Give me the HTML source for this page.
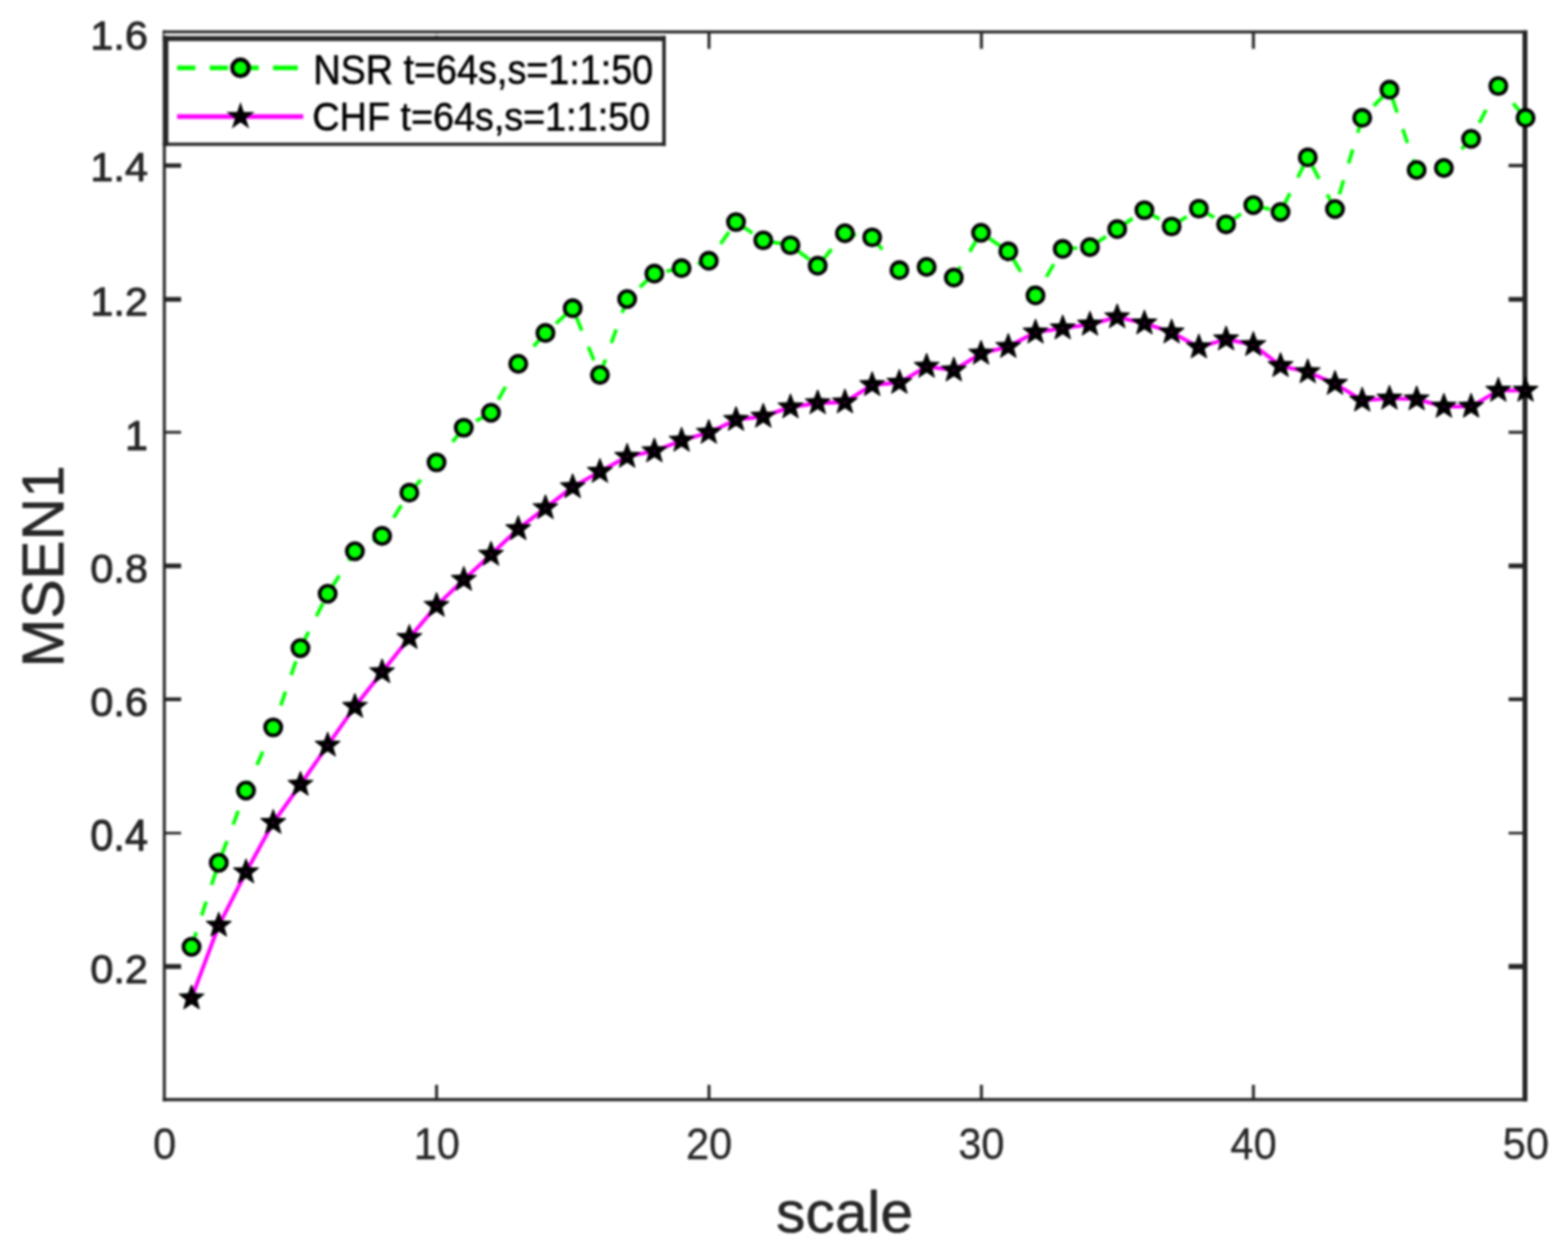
<!DOCTYPE html>
<html lang="en"><head><meta charset="utf-8"><title>MSEN1 vs scale</title>
<style>
html,body{margin:0;padding:0;background:#fff;}
body{width:1585px;height:1269px;overflow:hidden;}
svg{display:block;}
.soft{filter:url(#soft);}
text{font-family:"Liberation Sans",sans-serif;}
text{paint-order:stroke fill;stroke-linejoin:round;}
.tk{font-size:42px;fill:#262626;stroke:#262626;}
.yt{stroke-width:0.9px;}
.xt{stroke-width:0.3px;}
.lg{font-size:38.15px;fill:#000;stroke:#000;stroke-width:0.5px;}
.lb{font-size:59.3px;fill:#262626;stroke:#262626;stroke-width:0.6px;}
</style></head><body>
<svg width="1585" height="1269" viewBox="0 0 1585 1269">
<defs><filter id="soft" x="0" y="0" width="1585" height="1269" filterUnits="userSpaceOnUse" color-interpolation-filters="sRGB"><feGaussianBlur stdDeviation="0.8" result="b"/><feComposite in="SourceGraphic" in2="b" operator="arithmetic" k1="0" k2="0.0" k3="1.00" k4="0"/></filter></defs>
<rect x="0" y="0" width="1585" height="1269" fill="#fff"/>
<g id="figure" class="soft">
<rect x="0" y="0" width="1585" height="1269" fill="#fff"/>
<g id="axes" stroke="#262626" fill="none">
<line x1="164.6" y1="32.3" x2="1544.0" y2="32.3" stroke-width="3.0"/>
<line x1="164.6" y1="1111.9" x2="1544.0" y2="1111.9" stroke-width="3.2"/>
<line x1="166.1" y1="30.80" x2="166.1" y2="1113.50" stroke-width="3.0"/>
<line x1="1541.5" y1="30.80" x2="1541.5" y2="1113.50" stroke-width="5.0"/>
<line x1="441.30" y1="1111.9" x2="441.30" y2="1096.9" stroke-width="3.0"/>
<line x1="441.30" y1="32.3" x2="441.30" y2="49.4" stroke-width="3.0"/>
<line x1="716.70" y1="1111.9" x2="716.70" y2="1096.9" stroke-width="3.0"/>
<line x1="716.70" y1="32.3" x2="716.70" y2="49.4" stroke-width="3.0"/>
<line x1="992.05" y1="1111.9" x2="992.05" y2="1096.9" stroke-width="3.0"/>
<line x1="992.05" y1="32.3" x2="992.05" y2="49.4" stroke-width="3.0"/>
<line x1="1267.00" y1="1111.9" x2="1267.00" y2="1096.9" stroke-width="3.0"/>
<line x1="1267.00" y1="32.3" x2="1267.00" y2="49.4" stroke-width="3.0"/>
<line x1="166.1" y1="167.40" x2="183.1" y2="167.40" stroke-width="4.4"/>
<line x1="1541.5" y1="167.40" x2="1524.9" y2="167.40" stroke-width="3.4"/>
<line x1="166.1" y1="302.70" x2="183.1" y2="302.70" stroke-width="4.8"/>
<line x1="1541.5" y1="302.70" x2="1524.9" y2="302.70" stroke-width="4.8"/>
<line x1="166.1" y1="437.10" x2="183.1" y2="437.10" stroke-width="2.8"/>
<line x1="1541.5" y1="437.10" x2="1524.9" y2="437.10" stroke-width="3.0"/>
<line x1="166.1" y1="572.20" x2="183.1" y2="572.20" stroke-width="4.8"/>
<line x1="1541.5" y1="572.20" x2="1524.9" y2="572.20" stroke-width="4.8"/>
<line x1="166.1" y1="707.10" x2="183.1" y2="707.10" stroke-width="3.8"/>
<line x1="1541.5" y1="707.10" x2="1524.9" y2="707.10" stroke-width="3.8"/>
<line x1="166.1" y1="842.40" x2="183.1" y2="842.40" stroke-width="2.6"/>
<line x1="1541.5" y1="842.40" x2="1524.9" y2="842.40" stroke-width="2.6"/>
<line x1="166.1" y1="977.30" x2="183.1" y2="977.30" stroke-width="5.0"/>
<line x1="1541.5" y1="977.30" x2="1524.9" y2="977.30" stroke-width="5.2"/>
</g>
<g id="plot">
<polyline points="193.62,957.40 221.14,872.40 248.66,799.40 276.18,735.50 303.70,655.30 331.22,600.40 358.74,557.40 386.26,541.90 413.78,498.20 441.30,467.50 468.82,432.50 496.34,417.40 523.86,367.90 551.38,336.70 578.90,311.70 606.42,379.10 633.94,302.40 661.46,276.70 688.98,271.20 716.50,263.70 744.02,224.50 771.54,243.00 799.06,248.00 826.58,268.70 854.10,235.90 881.62,240.00 909.14,273.20 936.66,269.90 964.18,280.70 991.70,235.40 1019.22,254.20 1046.74,298.70 1074.26,251.70 1101.78,249.90 1129.30,231.70 1156.82,212.50 1184.34,229.00 1211.86,211.00 1239.38,226.80 1266.90,207.40 1294.42,214.40 1321.94,159.20 1349.46,211.40 1376.98,119.20 1404.50,90.70 1432.02,171.90 1459.54,169.90 1487.06,140.40 1514.58,87.00 1542.10,119.20" fill="none" stroke="#00ff00" stroke-width="3.7" stroke-dasharray="14.8 17.65" stroke-dashoffset="-0.8" stroke-linejoin="round"/>
<g fill="#00ff00" stroke="#000" stroke-width="3.8">
<circle cx="193.62" cy="957.40" r="8.2"/>
<circle cx="221.14" cy="872.40" r="8.2"/>
<circle cx="248.66" cy="799.40" r="8.2"/>
<circle cx="276.18" cy="735.50" r="8.2"/>
<circle cx="303.70" cy="655.30" r="8.2"/>
<circle cx="331.22" cy="600.40" r="8.2"/>
<circle cx="358.74" cy="557.40" r="8.2"/>
<circle cx="386.26" cy="541.90" r="8.2"/>
<circle cx="413.78" cy="498.20" r="8.2"/>
<circle cx="441.30" cy="467.50" r="8.2"/>
<circle cx="468.82" cy="432.50" r="8.2"/>
<circle cx="496.34" cy="417.40" r="8.2"/>
<circle cx="523.86" cy="367.90" r="8.2"/>
<circle cx="551.38" cy="336.70" r="8.2"/>
<circle cx="578.90" cy="311.70" r="8.2"/>
<circle cx="606.42" cy="379.10" r="8.2"/>
<circle cx="633.94" cy="302.40" r="8.2"/>
<circle cx="661.46" cy="276.70" r="8.2"/>
<circle cx="688.98" cy="271.20" r="8.2"/>
<circle cx="716.50" cy="263.70" r="8.2"/>
<circle cx="744.02" cy="224.50" r="8.2"/>
<circle cx="771.54" cy="243.00" r="8.2"/>
<circle cx="799.06" cy="248.00" r="8.2"/>
<circle cx="826.58" cy="268.70" r="8.2"/>
<circle cx="854.10" cy="235.90" r="8.2"/>
<circle cx="881.62" cy="240.00" r="8.2"/>
<circle cx="909.14" cy="273.20" r="8.2"/>
<circle cx="936.66" cy="269.90" r="8.2"/>
<circle cx="964.18" cy="280.70" r="8.2"/>
<circle cx="991.70" cy="235.40" r="8.2"/>
<circle cx="1019.22" cy="254.20" r="8.2"/>
<circle cx="1046.74" cy="298.70" r="8.2"/>
<circle cx="1074.26" cy="251.70" r="8.2"/>
<circle cx="1101.78" cy="249.90" r="8.2"/>
<circle cx="1129.30" cy="231.70" r="8.2"/>
<circle cx="1156.82" cy="212.50" r="8.2"/>
<circle cx="1184.34" cy="229.00" r="8.2"/>
<circle cx="1211.86" cy="211.00" r="8.2"/>
<circle cx="1239.38" cy="226.80" r="8.2"/>
<circle cx="1266.90" cy="207.40" r="8.2"/>
<circle cx="1294.42" cy="214.40" r="8.2"/>
<circle cx="1321.94" cy="159.20" r="8.2"/>
<circle cx="1349.46" cy="211.40" r="8.2"/>
<circle cx="1376.98" cy="119.20" r="8.2"/>
<circle cx="1404.50" cy="90.70" r="8.2"/>
<circle cx="1432.02" cy="171.90" r="8.2"/>
<circle cx="1459.54" cy="169.90" r="8.2"/>
<circle cx="1487.06" cy="140.40" r="8.2"/>
<circle cx="1514.58" cy="87.00" r="8.2"/>
<circle cx="1542.10" cy="119.20" r="8.2"/>
</g>
<polyline points="193.62,1009.30 221.14,935.80 248.66,881.90 276.18,831.90 303.70,793.30 331.22,753.70 358.74,714.50 386.26,679.50 413.78,644.90 441.30,612.40 468.82,586.10 496.34,560.70 523.86,534.80 551.38,513.60 578.90,492.40 606.42,476.90 633.94,461.70 661.46,456.20 688.98,445.40 716.50,437.40 744.02,424.40 771.54,421.20 799.06,411.70 826.58,407.50 854.10,406.70 881.62,389.20 909.14,386.90 936.66,370.60 964.18,374.40 991.70,357.40 1019.22,350.60 1046.74,336.10 1074.26,331.90 1101.78,328.10 1129.30,320.60 1156.82,326.90 1184.34,336.00 1211.86,351.10 1239.38,343.00 1266.90,348.70 1294.42,369.90 1321.94,376.20 1349.46,387.90 1376.98,404.90 1404.50,402.90 1432.02,403.60 1459.54,411.10 1487.06,411.10 1514.58,394.90 1542.10,394.90" fill="none" stroke="#ff00ff" stroke-width="3.9" stroke-linejoin="round"/>
<g fill="#000" stroke="#000" stroke-width="1.0" stroke-linejoin="miter" stroke-miterlimit="10">
<polygon points="193.62,995.90 196.93,1004.75 206.36,1005.16 198.97,1011.04 201.50,1020.14 193.62,1014.93 185.74,1020.14 188.27,1011.04 180.88,1005.16 190.31,1004.75"/>
<polygon points="221.14,922.40 224.45,931.25 233.88,931.66 226.49,937.54 229.02,946.64 221.14,941.43 213.26,946.64 215.79,937.54 208.40,931.66 217.83,931.25"/>
<polygon points="248.66,868.50 251.97,877.35 261.40,877.76 254.01,883.64 256.54,892.74 248.66,887.53 240.78,892.74 243.31,883.64 235.92,877.76 245.35,877.35"/>
<polygon points="276.18,818.50 279.49,827.35 288.92,827.76 281.53,833.64 284.06,842.74 276.18,837.53 268.30,842.74 270.83,833.64 263.44,827.76 272.87,827.35"/>
<polygon points="303.70,779.90 307.01,788.75 316.44,789.16 309.05,795.04 311.58,804.14 303.70,798.93 295.82,804.14 298.35,795.04 290.96,789.16 300.39,788.75"/>
<polygon points="331.22,740.30 334.53,749.15 343.96,749.56 336.57,755.44 339.10,764.54 331.22,759.33 323.34,764.54 325.87,755.44 318.48,749.56 327.91,749.15"/>
<polygon points="358.74,701.10 362.05,709.95 371.48,710.36 364.09,716.24 366.62,725.34 358.74,720.13 350.86,725.34 353.39,716.24 346.00,710.36 355.43,709.95"/>
<polygon points="386.26,666.10 389.57,674.95 399.00,675.36 391.61,681.24 394.14,690.34 386.26,685.13 378.38,690.34 380.91,681.24 373.52,675.36 382.95,674.95"/>
<polygon points="413.78,631.50 417.09,640.35 426.52,640.76 419.13,646.64 421.66,655.74 413.78,650.53 405.90,655.74 408.43,646.64 401.04,640.76 410.47,640.35"/>
<polygon points="441.30,599.00 444.61,607.85 454.04,608.26 446.65,614.14 449.18,623.24 441.30,618.03 433.42,623.24 435.95,614.14 428.56,608.26 437.99,607.85"/>
<polygon points="468.82,572.70 472.13,581.55 481.56,581.96 474.17,587.84 476.70,596.94 468.82,591.73 460.94,596.94 463.47,587.84 456.08,581.96 465.51,581.55"/>
<polygon points="496.34,547.30 499.65,556.15 509.08,556.56 501.69,562.44 504.22,571.54 496.34,566.33 488.46,571.54 490.99,562.44 483.60,556.56 493.03,556.15"/>
<polygon points="523.86,521.40 527.17,530.25 536.60,530.66 529.21,536.54 531.74,545.64 523.86,540.43 515.98,545.64 518.51,536.54 511.12,530.66 520.55,530.25"/>
<polygon points="551.38,500.20 554.69,509.05 564.12,509.46 556.73,515.34 559.26,524.44 551.38,519.23 543.50,524.44 546.03,515.34 538.64,509.46 548.07,509.05"/>
<polygon points="578.90,479.00 582.21,487.85 591.64,488.26 584.25,494.14 586.78,503.24 578.90,498.03 571.02,503.24 573.55,494.14 566.16,488.26 575.59,487.85"/>
<polygon points="606.42,463.50 609.73,472.35 619.16,472.76 611.77,478.64 614.30,487.74 606.42,482.53 598.54,487.74 601.07,478.64 593.68,472.76 603.11,472.35"/>
<polygon points="633.94,448.30 637.25,457.15 646.68,457.56 639.29,463.44 641.82,472.54 633.94,467.33 626.06,472.54 628.59,463.44 621.20,457.56 630.63,457.15"/>
<polygon points="661.46,442.80 664.77,451.65 674.20,452.06 666.81,457.94 669.34,467.04 661.46,461.83 653.58,467.04 656.11,457.94 648.72,452.06 658.15,451.65"/>
<polygon points="688.98,432.00 692.29,440.85 701.72,441.26 694.33,447.14 696.86,456.24 688.98,451.03 681.10,456.24 683.63,447.14 676.24,441.26 685.67,440.85"/>
<polygon points="716.50,424.00 719.81,432.85 729.24,433.26 721.85,439.14 724.38,448.24 716.50,443.03 708.62,448.24 711.15,439.14 703.76,433.26 713.19,432.85"/>
<polygon points="744.02,411.00 747.33,419.85 756.76,420.26 749.37,426.14 751.90,435.24 744.02,430.03 736.14,435.24 738.67,426.14 731.28,420.26 740.71,419.85"/>
<polygon points="771.54,407.80 774.85,416.65 784.28,417.06 776.89,422.94 779.42,432.04 771.54,426.83 763.66,432.04 766.19,422.94 758.80,417.06 768.23,416.65"/>
<polygon points="799.06,398.30 802.37,407.15 811.80,407.56 804.41,413.44 806.94,422.54 799.06,417.33 791.18,422.54 793.71,413.44 786.32,407.56 795.75,407.15"/>
<polygon points="826.58,394.10 829.89,402.95 839.32,403.36 831.93,409.24 834.46,418.34 826.58,413.13 818.70,418.34 821.23,409.24 813.84,403.36 823.27,402.95"/>
<polygon points="854.10,393.30 857.41,402.15 866.84,402.56 859.45,408.44 861.98,417.54 854.10,412.33 846.22,417.54 848.75,408.44 841.36,402.56 850.79,402.15"/>
<polygon points="881.62,375.80 884.93,384.65 894.36,385.06 886.97,390.94 889.50,400.04 881.62,394.83 873.74,400.04 876.27,390.94 868.88,385.06 878.31,384.65"/>
<polygon points="909.14,373.50 912.45,382.35 921.88,382.76 914.49,388.64 917.02,397.74 909.14,392.53 901.26,397.74 903.79,388.64 896.40,382.76 905.83,382.35"/>
<polygon points="936.66,357.20 939.97,366.05 949.40,366.46 942.01,372.34 944.54,381.44 936.66,376.23 928.78,381.44 931.31,372.34 923.92,366.46 933.35,366.05"/>
<polygon points="964.18,361.00 967.49,369.85 976.92,370.26 969.53,376.14 972.06,385.24 964.18,380.03 956.30,385.24 958.83,376.14 951.44,370.26 960.87,369.85"/>
<polygon points="991.70,344.00 995.01,352.85 1004.44,353.26 997.05,359.14 999.58,368.24 991.70,363.03 983.82,368.24 986.35,359.14 978.96,353.26 988.39,352.85"/>
<polygon points="1019.22,337.20 1022.53,346.05 1031.96,346.46 1024.57,352.34 1027.10,361.44 1019.22,356.23 1011.34,361.44 1013.87,352.34 1006.48,346.46 1015.91,346.05"/>
<polygon points="1046.74,322.70 1050.05,331.55 1059.48,331.96 1052.09,337.84 1054.62,346.94 1046.74,341.73 1038.86,346.94 1041.39,337.84 1034.00,331.96 1043.43,331.55"/>
<polygon points="1074.26,318.50 1077.57,327.35 1087.00,327.76 1079.61,333.64 1082.14,342.74 1074.26,337.53 1066.38,342.74 1068.91,333.64 1061.52,327.76 1070.95,327.35"/>
<polygon points="1101.78,314.70 1105.09,323.55 1114.52,323.96 1107.13,329.84 1109.66,338.94 1101.78,333.73 1093.90,338.94 1096.43,329.84 1089.04,323.96 1098.47,323.55"/>
<polygon points="1129.30,307.20 1132.61,316.05 1142.04,316.46 1134.65,322.34 1137.18,331.44 1129.30,326.23 1121.42,331.44 1123.95,322.34 1116.56,316.46 1125.99,316.05"/>
<polygon points="1156.82,313.50 1160.13,322.35 1169.56,322.76 1162.17,328.64 1164.70,337.74 1156.82,332.53 1148.94,337.74 1151.47,328.64 1144.08,322.76 1153.51,322.35"/>
<polygon points="1184.34,322.60 1187.65,331.45 1197.08,331.86 1189.69,337.74 1192.22,346.84 1184.34,341.63 1176.46,346.84 1178.99,337.74 1171.60,331.86 1181.03,331.45"/>
<polygon points="1211.86,337.70 1215.17,346.55 1224.60,346.96 1217.21,352.84 1219.74,361.94 1211.86,356.73 1203.98,361.94 1206.51,352.84 1199.12,346.96 1208.55,346.55"/>
<polygon points="1239.38,329.60 1242.69,338.45 1252.12,338.86 1244.73,344.74 1247.26,353.84 1239.38,348.63 1231.50,353.84 1234.03,344.74 1226.64,338.86 1236.07,338.45"/>
<polygon points="1266.90,335.30 1270.21,344.15 1279.64,344.56 1272.25,350.44 1274.78,359.54 1266.90,354.33 1259.02,359.54 1261.55,350.44 1254.16,344.56 1263.59,344.15"/>
<polygon points="1294.42,356.50 1297.73,365.35 1307.16,365.76 1299.77,371.64 1302.30,380.74 1294.42,375.53 1286.54,380.74 1289.07,371.64 1281.68,365.76 1291.11,365.35"/>
<polygon points="1321.94,362.80 1325.25,371.65 1334.68,372.06 1327.29,377.94 1329.82,387.04 1321.94,381.83 1314.06,387.04 1316.59,377.94 1309.20,372.06 1318.63,371.65"/>
<polygon points="1349.46,374.50 1352.77,383.35 1362.20,383.76 1354.81,389.64 1357.34,398.74 1349.46,393.53 1341.58,398.74 1344.11,389.64 1336.72,383.76 1346.15,383.35"/>
<polygon points="1376.98,391.50 1380.29,400.35 1389.72,400.76 1382.33,406.64 1384.86,415.74 1376.98,410.53 1369.10,415.74 1371.63,406.64 1364.24,400.76 1373.67,400.35"/>
<polygon points="1404.50,389.50 1407.81,398.35 1417.24,398.76 1409.85,404.64 1412.38,413.74 1404.50,408.53 1396.62,413.74 1399.15,404.64 1391.76,398.76 1401.19,398.35"/>
<polygon points="1432.02,390.20 1435.33,399.05 1444.76,399.46 1437.37,405.34 1439.90,414.44 1432.02,409.23 1424.14,414.44 1426.67,405.34 1419.28,399.46 1428.71,399.05"/>
<polygon points="1459.54,397.70 1462.85,406.55 1472.28,406.96 1464.89,412.84 1467.42,421.94 1459.54,416.73 1451.66,421.94 1454.19,412.84 1446.80,406.96 1456.23,406.55"/>
<polygon points="1487.06,397.70 1490.37,406.55 1499.80,406.96 1492.41,412.84 1494.94,421.94 1487.06,416.73 1479.18,421.94 1481.71,412.84 1474.32,406.96 1483.75,406.55"/>
<polygon points="1514.58,381.50 1517.89,390.35 1527.32,390.76 1519.93,396.64 1522.46,405.74 1514.58,400.53 1506.70,405.74 1509.23,396.64 1501.84,390.76 1511.27,390.35"/>
<polygon points="1542.10,381.50 1545.41,390.35 1554.84,390.76 1547.45,396.64 1549.98,405.74 1542.10,400.53 1534.22,405.74 1536.75,396.64 1529.36,390.76 1538.79,390.35"/>
</g>
<g fill="#900090">
<circle cx="193.62" cy="1009.30" r="0.9"/>
<circle cx="221.14" cy="935.80" r="0.9"/>
<circle cx="248.66" cy="881.90" r="0.9"/>
<circle cx="276.18" cy="831.90" r="0.9"/>
<circle cx="303.70" cy="793.30" r="0.9"/>
<circle cx="331.22" cy="753.70" r="0.9"/>
<circle cx="358.74" cy="714.50" r="0.9"/>
<circle cx="386.26" cy="679.50" r="0.9"/>
<circle cx="413.78" cy="644.90" r="0.9"/>
<circle cx="441.30" cy="612.40" r="0.9"/>
<circle cx="468.82" cy="586.10" r="0.9"/>
<circle cx="496.34" cy="560.70" r="0.9"/>
<circle cx="523.86" cy="534.80" r="0.9"/>
<circle cx="551.38" cy="513.60" r="0.9"/>
<circle cx="578.90" cy="492.40" r="0.9"/>
<circle cx="606.42" cy="476.90" r="0.9"/>
<circle cx="633.94" cy="461.70" r="0.9"/>
<circle cx="661.46" cy="456.20" r="0.9"/>
<circle cx="688.98" cy="445.40" r="0.9"/>
<circle cx="716.50" cy="437.40" r="0.9"/>
<circle cx="744.02" cy="424.40" r="0.9"/>
<circle cx="771.54" cy="421.20" r="0.9"/>
<circle cx="799.06" cy="411.70" r="0.9"/>
<circle cx="826.58" cy="407.50" r="0.9"/>
<circle cx="854.10" cy="406.70" r="0.9"/>
<circle cx="881.62" cy="389.20" r="0.9"/>
<circle cx="909.14" cy="386.90" r="0.9"/>
<circle cx="936.66" cy="370.60" r="0.9"/>
<circle cx="964.18" cy="374.40" r="0.9"/>
<circle cx="991.70" cy="357.40" r="0.9"/>
<circle cx="1019.22" cy="350.60" r="0.9"/>
<circle cx="1046.74" cy="336.10" r="0.9"/>
<circle cx="1074.26" cy="331.90" r="0.9"/>
<circle cx="1101.78" cy="328.10" r="0.9"/>
<circle cx="1129.30" cy="320.60" r="0.9"/>
<circle cx="1156.82" cy="326.90" r="0.9"/>
<circle cx="1184.34" cy="336.00" r="0.9"/>
<circle cx="1211.86" cy="351.10" r="0.9"/>
<circle cx="1239.38" cy="343.00" r="0.9"/>
<circle cx="1266.90" cy="348.70" r="0.9"/>
<circle cx="1294.42" cy="369.90" r="0.9"/>
<circle cx="1321.94" cy="376.20" r="0.9"/>
<circle cx="1349.46" cy="387.90" r="0.9"/>
<circle cx="1376.98" cy="404.90" r="0.9"/>
<circle cx="1404.50" cy="402.90" r="0.9"/>
<circle cx="1432.02" cy="403.60" r="0.9"/>
<circle cx="1459.54" cy="411.10" r="0.9"/>
<circle cx="1487.06" cy="411.10" r="0.9"/>
<circle cx="1514.58" cy="394.90" r="0.9"/>
<circle cx="1542.10" cy="394.90" r="0.9"/>
</g>
</g>
<text class="tk xt" text-anchor="middle" transform="translate(166.40 1172.30) scale(1 1.045)">0</text>
<text class="tk xt" text-anchor="middle" transform="translate(441.60 1172.30) scale(1 1.045)">10</text>
<text class="tk xt" text-anchor="middle" transform="translate(716.80 1172.30) scale(1 1.045)">20</text>
<text class="tk xt" text-anchor="middle" transform="translate(992.00 1172.30) scale(1 1.045)">30</text>
<text class="tk xt" text-anchor="middle" transform="translate(1267.20 1172.30) scale(1 1.045)">40</text>
<text class="tk xt" text-anchor="middle" transform="translate(1542.40 1172.30) scale(1 1.045)">50</text>
<text class="tk yt" text-anchor="end" transform="translate(149.60 993.80) scale(1 0.985)">0.2</text>
<text class="tk yt" text-anchor="end" transform="translate(149.60 859.70) scale(1 1.045)">0.4</text>
<text class="tk yt" text-anchor="end" transform="translate(149.60 723.80) scale(1 0.965)">0.6</text>
<text class="tk yt" text-anchor="end" transform="translate(149.60 588.50) scale(1 0.975)">0.8</text>
<text class="tk yt" text-anchor="end" transform="translate(149.60 454.70) scale(1 1.004)">1</text>
<text class="tk yt" text-anchor="end" transform="translate(149.60 318.80) scale(1 0.985)">1.2</text>
<text class="tk yt" text-anchor="end" transform="translate(149.60 182.80) scale(1 0.975)">1.4</text>
<text class="tk yt" text-anchor="end" transform="translate(149.60 49.70) scale(1 0.985)">1.6</text>
<text class="lb" text-anchor="middle" transform="translate(853.80 1246.30)">scale</text>
<text class="lb" text-anchor="middle" transform="translate(64.30 572.70) rotate(-90)">MSEN1</text>
<g id="legend">
<rect x="168.6" y="39" width="502.6" height="107" fill="#fff" stroke="none"/>
<line x1="166" y1="35" x2="672.7" y2="35" stroke="#ececec" stroke-width="2.6"/>
<line x1="164.7" y1="39" x2="673" y2="39" stroke="#262626" stroke-width="5"/>
<line x1="164.7" y1="145.9" x2="673" y2="145.9" stroke="#262626" stroke-width="3.2"/>
<line x1="167.5" y1="36.5" x2="167.5" y2="147.5" stroke="#262626" stroke-width="5.4"/>
<line x1="671.2" y1="36.5" x2="671.2" y2="147.5" stroke="#262626" stroke-width="3.6"/>
<line x1="179" y1="68.6" x2="301" y2="68.6" stroke="#00ff00" stroke-width="4.6" stroke-dasharray="18.5 14.5 18.5 12.5 18.5 14.5 25 10"/>
<circle cx="243.1" cy="68.6" r="8.4" fill="#00ff00" stroke="#000" stroke-width="4.2"/>
<line x1="179" y1="117.8" x2="306.5" y2="117.8" stroke="#ff00ff" stroke-width="4.8"/>
<polygon points="243.10,108.40 245.23,114.96 252.14,114.96 246.55,119.02 248.68,125.59 243.10,121.53 237.52,125.59 239.65,119.02 234.06,114.96 240.97,114.96" fill="#000" stroke="#000" stroke-width="3.4" stroke-linejoin="miter" stroke-miterlimit="10"/>
<text class="lg" text-anchor="start" transform="translate(316.80 85.00) scale(1 1.117)">NSR t=64s,s=1:1:50</text>
<text class="lg" text-anchor="start" transform="translate(315.80 132.30) scale(1 1.05)">CHF t=64s,s=1:1:50</text>
</g>
</g>
</svg>
</body></html>
